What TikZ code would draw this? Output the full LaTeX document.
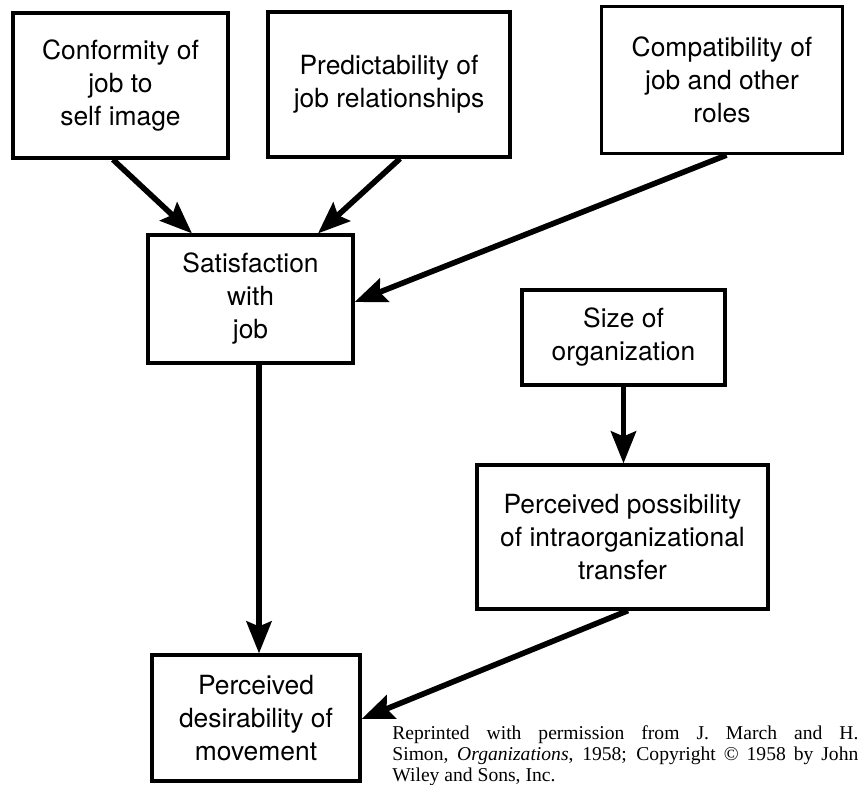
\documentclass[tikz,border=0pt]{standalone}
\usepackage{fontspec}
\setmainfont{Liberation Serif}
\newfontfamily\boxfont{TeX Gyre Heros}
\usetikzlibrary{arrows.meta,calc}
\tikzset{
  box/.style={draw,line width=1.6pt,align=center,inner sep=0pt,
    font=\boxfont\fontsize{13.2}{16.5}\selectfont},
  arr/.style={line width=2.8pt,-{Stealth[length=16pt,width=12.5pt,inset=2.5pt]}},
  caption/.style={inner sep=0pt,anchor=north west,text width=233pt,
    font=\fontsize{9.8}{10.5}\selectfont,align=justify}
}
\begin{document}
\begin{tikzpicture}[x=0.5pt,y=-0.5pt]
\useasboundingbox (0,0) rectangle (863,784);
\node[box,minimum width=107.5pt,minimum height=72.5pt] (A) at (120.5,85.5) {Conformity of\\job to\\self image};
\node[box,minimum width=121pt,minimum height=72.5pt] (B) at (389,84.5) {Predictability of\\job relationships};
\node[box,minimum width=120.5pt,minimum height=73.5pt] (C) at (722,80) {Compatibility of\\job and other\\roles};
\node[box,minimum width=102.5pt,minimum height=64pt] (D) at (250.5,299) {Satisfaction\\with\\job};
\node[box,minimum width=101.5pt,minimum height=47.5pt] (E) at (623.5,337.5) {Size of\\organization};
\node[box,minimum width=145.5pt,minimum height=72pt] (F) at (622.5,537) {Perceived possibility\\of intraorganizational\\transfer};
\node[box,minimum width=104pt,minimum height=63pt] (G) at (256,718) {Perceived\\desirability of\\movement};
\node[caption] (cap) at (392,725) {Reprinted with permission from J. March and H.\linebreak Simon, \textit{Organizations}, 1958; Copyright © 1958 by John\linebreak Wiley and Sons, Inc.};
\draw[arr] ($(A.south)+(-7.5,0)$) -- ($(D.north)+(-58.5,0)$);
\draw[arr] ($(B.south)+(11,0)$) -- ($(D.north)+(67.5,0)$);
\draw[arr] ($(C.south)+(4.5,0)$) -- ($(D.east)+(0,3)$);
\draw[arr] ($(D.south)+(8.5,0)$) -- ($(G.north)+(3,0)$);
\draw[arr] (E.south) -- (E.south |- F.north);
\draw[arr] ($(F.south)+(5.5,0)$) -- ($(G.east)+(0,1)$);
\end{tikzpicture}
\end{document}
